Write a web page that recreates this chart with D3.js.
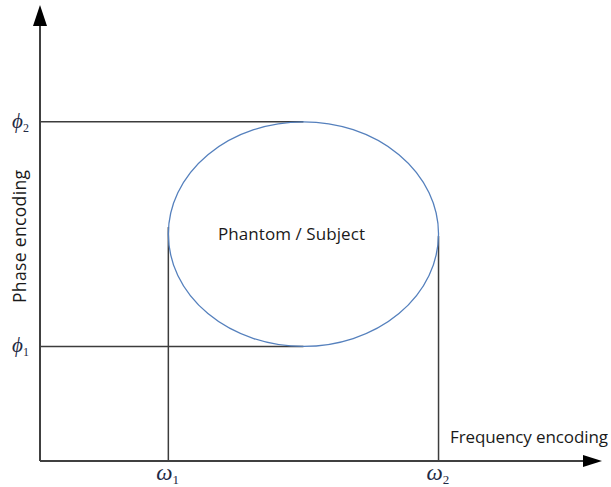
<!DOCTYPE html>
<html>
<head>
<meta charset="utf-8">
<script src="https://cdn.jsdelivr.net/npm/d3@7"></script>
<style>
body { margin: 0; background: #fff; }
text { font-family: "Open Sans", "Noto Sans", sans-serif; fill: #1a1a1a; }
.sym { font-family: "Liberation Serif", "DejaVu Serif", serif; font-style: italic; fill: #1f2a44; }
.sub { font-style: normal; }
</style>
</head>
<body>
<svg id="chart" width="611" height="487"></svg>
<script>
// encoding positions (arbitrary units)
var freqLabels = ['ω', 'ω']
var freqSubs = ['1', '2']
var freqValues = [0.95, 2.95]
var phaseLabels = ['ϕ', 'ϕ']
var phaseSubs = ['1', '2']
var phaseValues = [1.02, 3.02]
var axisMax = [4.16, 4.06]   // x, y arrow tips
var subjectLabel = 'Phantom / Subject'

var svg = d3.select('#chart')
var x = d3.scaleLinear().domain([0, 4.16]).range([40, 602])
var y = d3.scaleLinear().domain([0, 4.06]).range([461, 5])

// ellipse bounded by the encoding limits
var cx = x((freqValues[0] + freqValues[1]) / 2)
var rx = (x(freqValues[1]) - x(freqValues[0])) / 2
var cy = y((phaseValues[0] + phaseValues[1]) / 2)
var ry = (y(phaseValues[0]) - y(phaseValues[1])) / 2

// guide lines
svg.selectAll('line.hguide')
    .data(phaseValues)
    .enter()
        .append('line')
        .attr('class', 'hguide')
        .attr('x1', x(0)).attr('x2', cx)
        .attr('y1', function(d) { return y(d); })
        .attr('y2', function(d) { return y(d); })
        .attr('stroke', '#3c3c3c')
        .attr('stroke-width', 1.5)

svg.selectAll('line.vguide')
    .data(freqValues)
    .enter()
        .append('line')
        .attr('class', 'vguide')
        .attr('x1', function(d) { return x(d); })
        .attr('x2', function(d) { return x(d); })
        .attr('y1', function(d, i) { return i == 0 ? cy - 7 : cy + 2; })
        .attr('y2', y(0))
        .attr('stroke', '#3c3c3c')
        .attr('stroke-width', 1.5)

svg.append('ellipse')
    .attr('cx', cx).attr('cy', cy)
    .attr('rx', rx).attr('ry', ry)
    .attr('fill', 'none')
    .attr('stroke', '#5580bd')
    .attr('stroke-width', 1.3)

// axes
svg.append('line')
    .attr('x1', x(0)).attr('y1', y(0))
    .attr('x2', x(0)).attr('y2', y(axisMax[1]) + 18)
    .attr('stroke', '#404040').attr('stroke-width', 2)
svg.append('path')
    .attr('d', 'M' + x(0) + ',' + y(axisMax[1]) + ' L' + (x(0) - 7) + ',' + (y(axisMax[1]) + 21) + ' L' + (x(0) + 7) + ',' + (y(axisMax[1]) + 21) + 'Z')
    .attr('fill', '#000')

svg.append('line')
    .attr('x1', x(0)).attr('y1', y(0))
    .attr('x2', x(axisMax[0]) - 16).attr('y2', y(0))
    .attr('stroke', '#404040').attr('stroke-width', 2)
svg.append('path')
    .attr('d', 'M' + x(axisMax[0]) + ',' + y(0) + ' L' + (x(axisMax[0]) - 19) + ',' + (y(0) - 6) + ' L' + (x(axisMax[0]) - 19) + ',' + (y(0) + 6) + 'Z')
    .attr('fill', '#000')

// tick labels
var ft = svg.selectAll('text.freq')
    .data(freqValues)
    .enter()
        .append('text')
        .attr('class', 'sym freq')
        .attr('x', function(d) { return x(d) - 12; })
        .attr('y', y(0) + 19)
        .attr('font-size', 23)
ft.append('tspan').text(function(d, i) { return freqLabels[i]; })
ft.append('tspan').attr('class', 'sub').attr('font-size', 13).attr('dy', 4).text(function(d, i) { return freqSubs[i]; })

var pt = svg.selectAll('text.phase')
    .data(phaseValues)
    .enter()
        .append('text')
        .attr('class', 'sym phase')
        .attr('x', 12)
        .attr('y', function(d) { return y(d) + 6; })
        .attr('font-size', 21)
pt.append('tspan').text(function(d, i) { return phaseLabels[i]; })
pt.append('tspan').attr('class', 'sub').attr('font-size', 12).attr('dy', 4).text(function(d, i) { return phaseSubs[i]; })

// axis titles
svg.append('text')
    .attr('transform', 'translate(26,236.5) rotate(-90)')
    .attr('text-anchor', 'middle')
    .attr('font-size', 17.5)
    .attr('textLength', 133)
    .text('Phase encoding')

svg.append('text')
    .attr('x', 450).attr('y', 443)
    .attr('font-size', 17)
    .attr('textLength', 158)
    .text('Frequency encoding')

svg.append('text')
    .attr('x', 218).attr('y', 240)
    .attr('font-size', 17)
    .attr('textLength', 147)
    .text(subjectLabel)
</script>
</body>
</html>
